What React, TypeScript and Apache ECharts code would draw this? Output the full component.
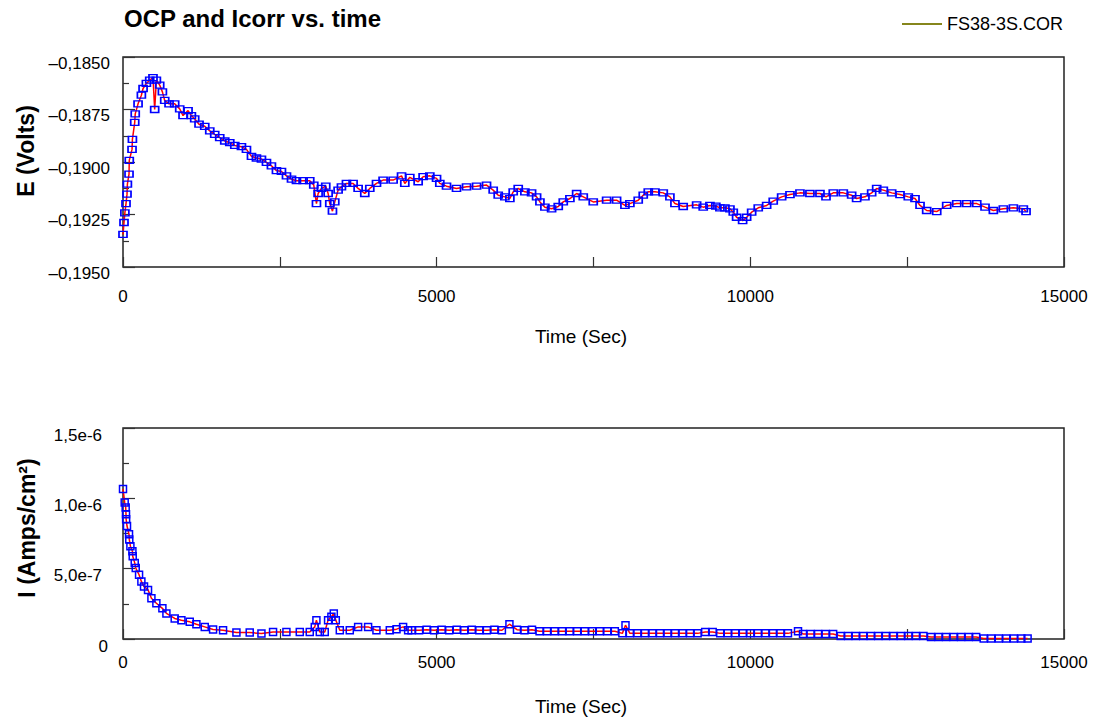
import React, { useEffect, useRef } from "react";
import * as echarts from "echarts";

// ---------- data ----------
const titleText = "OCP and Icorr vs. time";
const legendName = "FS38-3S.COR";
const xAxisTitle = "Time (Sec)";
const eAxisTitle = "E (Volts)";
const iAxisTitle = "I (Amps/cm²)";

// OCP: time (s) and potential (V)
const eTime = [
  0, 16, 30, 48, 64, 70, 96, 100, 144, 150, 187, 195, 240, 293, 320, 373, 426, 478, 505, 532,
  585, 628, 665, 734, 824, 904, 957, 1037, 1090, 1143, 1212, 1303, 1383, 1462, 1542, 1622, 1702, 1782, 1888, 1968,
  2048, 2127, 2207, 2287, 2366, 2446, 2526, 2606, 2686, 2765, 2871, 2977, 3041, 3084, 3110, 3163, 3232, 3270, 3296, 3339,
  3376, 3429, 3482, 3562, 3668, 3748, 3854, 3934, 4041, 4146, 4306, 4440, 4492, 4572, 4705, 4784, 4891, 4998, 5050, 5157,
  5316, 5476, 5636, 5795, 5901, 5981, 6087, 6167, 6220, 6300, 6406, 6513, 6593, 6646, 6725, 6832, 6938, 7018, 7124, 7231,
  7337, 7496, 7709, 7868, 8001, 8080, 8213, 8293, 8373, 8479, 8612, 8718, 8798, 8930, 9144, 9249, 9356, 9450, 9515, 9595,
  9675, 9728, 9781, 9877, 9941, 10021, 10126, 10260, 10365, 10499, 10632, 10791, 10950, 11110, 11206, 11322, 11482, 11615, 11694, 11827,
  11934, 12014, 12120, 12253, 12386, 12518, 12625, 12705, 12811, 12971, 13130, 13290, 13449, 13609, 13741, 13874, 14033, 14193, 14352, 14395,
];
const eVolts = [
  -0.19345, -0.19288, -0.19242, -0.19198, -0.19153, -0.19105, -0.19058, -0.18992, -0.1894, -0.18892, -0.18811, -0.18771, -0.18723, -0.18682, -0.1865, -0.18626, -0.1861, -0.18598, -0.1875, -0.1861,
  -0.18634, -0.18666, -0.18707, -0.18723, -0.18723, -0.18747, -0.18779, -0.18755, -0.18779, -0.18795, -0.1882, -0.1883, -0.18852, -0.18868, -0.18884, -0.189, -0.18908, -0.18921, -0.18927, -0.1894,
  -0.18973, -0.18981, -0.18986, -0.19002, -0.19018, -0.19041, -0.19045, -0.19066, -0.19082, -0.19089, -0.19089, -0.19089, -0.1911, -0.19198, -0.1915, -0.19126, -0.19115, -0.1915, -0.19198, -0.19234,
  -0.1919, -0.19134, -0.19118, -0.19102, -0.19102, -0.19126, -0.1915, -0.19126, -0.19102, -0.19086, -0.19086, -0.19066, -0.19102, -0.19073, -0.19094, -0.1907, -0.19066, -0.19078, -0.19102, -0.19115,
  -0.19126, -0.19118, -0.19115, -0.1911, -0.19134, -0.19158, -0.19166, -0.19174, -0.19142, -0.19126, -0.19142, -0.19147, -0.19166, -0.1919, -0.19215, -0.19223, -0.19212, -0.1919, -0.19174, -0.1915,
  -0.19166, -0.1919, -0.19182, -0.19182, -0.19207, -0.19198, -0.19182, -0.19158, -0.19142, -0.19142, -0.19147, -0.19166, -0.19198, -0.19212, -0.19204, -0.19215, -0.19207, -0.1921, -0.19218, -0.19218,
  -0.19223, -0.19239, -0.19263, -0.19279, -0.19263, -0.19239, -0.19218, -0.19207, -0.19186, -0.19166, -0.19155, -0.19147, -0.1915, -0.1915, -0.19166, -0.19147, -0.19147, -0.19158, -0.19174, -0.19166,
  -0.19147, -0.19126, -0.19134, -0.19147, -0.19155, -0.19166, -0.19174, -0.19207, -0.19231, -0.19236, -0.19207, -0.19198, -0.19198, -0.19198, -0.19215, -0.19231, -0.19223, -0.19218, -0.19223, -0.19236,
];

// Icorr: time (s) and current density in µA/cm² (1 = 1,0e-6 A/cm²)
const iTime = [
  0, 27, 43, 48, 50, 64, 96, 100, 118, 150, 155, 187, 203, 256, 293, 335, 399, 453, 532, 628,
  692, 824, 931, 1064, 1170, 1303, 1436, 1595, 1808, 2020, 2207, 2392, 2605, 2818, 2977, 3057, 3083, 3137, 3216, 3269,
  3322, 3360, 3392, 3456, 3615, 3748, 3907, 4040, 4253, 4360, 4465, 4545, 4600, 4720, 4840, 4960, 5080, 5200, 5320, 5440,
  5560, 5680, 5800, 5920, 6040, 6160, 6280, 6400, 6520, 6640, 6760, 6880, 7000, 7120, 7240, 7360, 7480, 7600, 7720, 7840,
  7960, 8010, 8080, 8200, 8320, 8440, 8560, 8680, 8800, 8920, 9040, 9160, 9280, 9400, 9520, 9640, 9760, 9880, 10000, 10120,
  10240, 10360, 10480, 10600, 10760, 10840, 10960, 11080, 11200, 11320, 11440, 11560, 11680, 11800, 11920, 12040, 12160, 12280, 12400, 12520,
  12640, 12760, 12880, 13000, 13120, 13240, 13360, 13480, 13600, 13720, 13840, 13960, 14080, 14200, 14320, 14420,
];
const iCurrent = [
  1.067, 0.971, 0.935, 0.887, 0.851, 0.803, 0.744, 0.708, 0.66, 0.624, 0.588, 0.541, 0.505, 0.457, 0.409, 0.373, 0.349, 0.29, 0.254, 0.218,
  0.182, 0.146, 0.134, 0.122, 0.105, 0.086, 0.067, 0.062, 0.046, 0.046, 0.039, 0.05, 0.05, 0.05, 0.05, 0.086, 0.134, 0.05, 0.05, 0.134,
  0.158, 0.182, 0.134, 0.062, 0.062, 0.086, 0.086, 0.062, 0.062, 0.07, 0.086, 0.062, 0.062, 0.062, 0.066, 0.062, 0.066, 0.062, 0.066, 0.062,
  0.066, 0.062, 0.062, 0.066, 0.062, 0.105, 0.066, 0.062, 0.066, 0.055, 0.055, 0.055, 0.055, 0.055, 0.055, 0.055, 0.055, 0.055, 0.055, 0.055,
  0.04, 0.098, 0.04, 0.04, 0.04, 0.04, 0.04, 0.04, 0.04, 0.04, 0.04, 0.04, 0.05, 0.05, 0.04, 0.04, 0.04, 0.04, 0.04, 0.04,
  0.04, 0.04, 0.04, 0.04, 0.055, 0.036, 0.036, 0.036, 0.036, 0.036, 0.022, 0.022, 0.022, 0.022, 0.022, 0.022, 0.022, 0.022, 0.022, 0.022,
  0.022, 0.022, 0.014, 0.014, 0.014, 0.014, 0.014, 0.014, 0.014, 0.004, 0.004, 0.004, 0.004, 0.004, 0.004, 0.004,
];

const timeMax = 15000;
const timeStep = 5000;
const eMin = -0.195;
const eMax = -0.185;
const eStep = 0.0025;
const iMax = 1.5;
const iStep = 0.5;

// ---------- helpers ----------
const FONT = "'Liberation Sans', Arial, Helvetica, sans-serif";

const fmtTime = (v: number) => String(Math.round(v));

const fmtVolt = (v: number) =>
  (v < 0 ? "\u2013" : "") + Math.abs(v).toFixed(4).replace(".", ",");

const fmtAmp = (v: number) => {
  if (Math.abs(v) < 1e-9) return "0";
  const a = v * 1e-6;
  const exp = Math.floor(Math.log10(a) + 1e-9);
  const mant = a / Math.pow(10, exp);
  return "{e|" + mant.toFixed(1).replace(".", ",") + "e" + exp + "}";
};

const zip = (xs: number[], ys: number[]) => xs.map((x, i) => [x, ys[i]]);

export default function App() {
  const ref = useRef<HTMLDivElement>(null);

  useEffect(() => {
    document.body.style.margin = "0";
    if (!ref.current) return;
    const chart = echarts.init(ref.current, null, { renderer: "svg" });

    const gridLeft = 123;
    const gridW = 941;
    const g1 = { top: 57, h: 210 };
    const g2 = { top: 428, h: 211 };

    const tickColor = "#333";
    const labelStyle = { color: "#000", fontSize: 17, fontFamily: FONT };

    const xAxisBase = (gridIndex: number, margin: number) => ({
      type: "value",
      gridIndex,
      min: 0,
      max: timeMax,
      interval: timeStep,
      axisLine: { show: false },
      axisTick: { show: true, inside: true, length: 10, lineStyle: { color: tickColor, width: 1.2 } },
      minorTick: { show: true, splitNumber: 2, length: 10, lineStyle: { color: tickColor, width: 1.2 } },
      splitLine: { show: false },
      axisLabel: { ...labelStyle, margin, formatter: fmtTime },
    });

    const seriesStyle = {
      type: "line",
      symbol: "rect",
      showSymbol: true,
      showAllSymbol: true,
      lineStyle: { color: "#ff0000", width: 1.5 },
      itemStyle: { color: "rgba(255,255,255,0)", borderColor: "#0000ff", borderWidth: 1.5 },
      emphasis: { disabled: true },
      z: 3,
    };

    chart.setOption({
      animation: false,
      backgroundColor: "#fff",
      textStyle: { fontFamily: FONT },
      legend: {
        left: 897,
        top: 10,
        itemWidth: 40,
        itemHeight: 2,
        icon: "rect",
        textStyle: { color: "#000", fontSize: 18, fontFamily: FONT },
        data: [{ name: legendName, itemStyle: { color: "#86861c", borderWidth: 0 } }],
        selectedMode: false,
      },
      grid: [
        { left: gridLeft, top: g1.top, width: gridW, height: g1.h, show: true, borderColor: "#222", borderWidth: 1.5, backgroundColor: "transparent" },
        { left: gridLeft, top: g2.top, width: gridW, height: g2.h, show: true, borderColor: "#222", borderWidth: 1.5, backgroundColor: "transparent" },
      ],
      xAxis: [xAxisBase(0, 21), xAxisBase(1, 15)],
      yAxis: [
        {
          type: "value",
          gridIndex: 0,
          min: eMin,
          max: eMax,
          interval: eStep,
          axisLine: { show: false },
          axisTick: { show: true, inside: true, length: 12, lineStyle: { color: tickColor, width: 1.2 } },
          minorTick: { show: true, splitNumber: 2, length: 6, lineStyle: { color: tickColor, width: 1.2 } },
          splitLine: { show: false },
          axisLabel: { ...labelStyle, margin: 13, formatter: fmtVolt, verticalAlign: "top", lineHeight: 12 },
        },
        {
          type: "value",
          gridIndex: 1,
          min: 0,
          max: iMax,
          interval: iStep,
          axisLine: { show: false },
          axisTick: { show: true, inside: true, length: 12, lineStyle: { color: tickColor, width: 1.2 } },
          minorTick: { show: true, splitNumber: 2, length: 6, lineStyle: { color: tickColor, width: 1.2 } },
          splitLine: { show: false },
          axisLabel: {
            ...labelStyle,
            margin: 15,
            formatter: fmtAmp,
            verticalAlign: "top",
            lineHeight: 14,
            rich: { e: { color: "#000", fontSize: 17, fontFamily: FONT, lineHeight: 14, padding: [0, 6, 0, 0] } },
          },
        },
      ],
      series: [
        { ...seriesStyle, name: legendName, xAxisIndex: 0, yAxisIndex: 0, symbolSize: [8, 6], data: zip(eTime, eVolts) },
        { ...seriesStyle, name: "Icorr", xAxisIndex: 1, yAxisIndex: 1, symbolSize: [7, 7], data: zip(iTime, iCurrent) },
      ],
      graphic: [
        {
          type: "text",
          x: 124,
          y: 18,
          style: { text: titleText, fontSize: 24, fontWeight: "bold", fill: "#000", fontFamily: FONT, align: "left", verticalAlign: "middle" },
        },
        {
          type: "text",
          x: 26,
          y: 151,
          rotation: Math.PI / 2,
          style: { text: eAxisTitle, fontSize: 23, fontWeight: "bold", fill: "#000", fontFamily: FONT, align: "center", verticalAlign: "middle" },
        },
        {
          type: "text",
          x: 27,
          y: 528,
          rotation: Math.PI / 2,
          style: { text: iAxisTitle, fontSize: 23, fontWeight: "bold", fill: "#000", fontFamily: FONT, align: "center", verticalAlign: "middle" },
        },
        {
          type: "text",
          x: 581,
          y: 336,
          style: { text: xAxisTitle, fontSize: 19, fill: "#000", fontFamily: FONT, align: "center", verticalAlign: "middle" },
        },
        {
          type: "text",
          x: 581,
          y: 706,
          style: { text: xAxisTitle, fontSize: 19, fill: "#000", fontFamily: FONT, align: "center", verticalAlign: "middle" },
        },
      ],
    });

    return () => chart.dispose();
  }, []);

  return <div ref={ref} style={{ width: 1094, height: 718 }} />;
}
